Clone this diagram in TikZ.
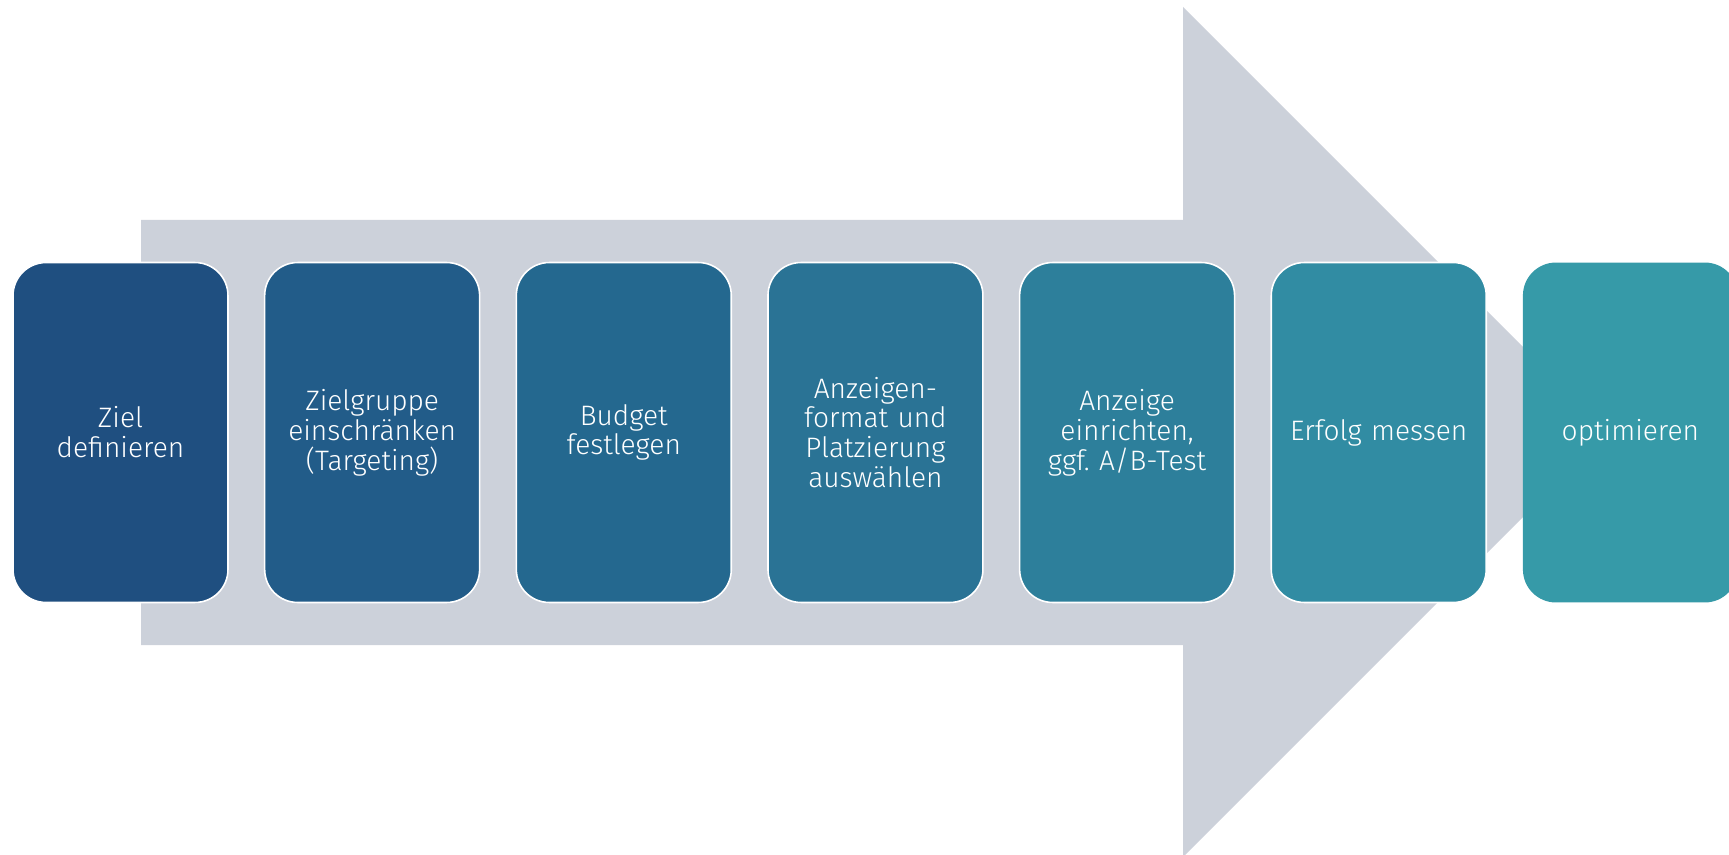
\documentclass[tikz,border=0pt]{standalone}
\usepackage{fontspec}
\setmainfont{Fira Sans}[UprightFont=* Light]
\usepackage{xcolor}
\usepackage{tikz}
\usetikzlibrary{positioning}
\definecolor{arrowgray}{HTML}{CCD1DA}
\definecolor{stepA}{HTML}{1F4F80}
\definecolor{stepB}{HTML}{225C89}
\definecolor{stepC}{HTML}{24688F}
\definecolor{stepD}{HTML}{2A7395}
\definecolor{stepE}{HTML}{2D7F9B}
\definecolor{stepF}{HTML}{318CA3}
\definecolor{stepG}{HTML}{369AA8}
\frenchspacing

\begin{document}
\begin{tikzpicture}[x=0.02cm, y=-0.02cm,
		stepbox/.style={rectangle, rounded corners=0.66cm, draw=white, line width=0.9pt,
			minimum width=4.3cm, minimum height=6.8cm, inner sep=0pt, outer sep=0pt,
			text width=4.1cm, align=center, text=white,
			font=\fontsize{16}{17}\selectfont}]
		\useasboundingbox (0,0) rectangle (1729,855);
		\clip (0,0) rectangle (1729,855);

		% big arrow behind the steps
		\fill[arrowgray] (141,220) -- (1183,220) -- (1183,7) -- (1608,432)
			-- (1183,857) -- (1183,645) -- (141,645) -- cycle;

		\node[stepbox, fill=stepA] (ziel) at (120.5,432.5) {Ziel\\definieren};
		\node[stepbox, fill=stepB, right=0.734cm of ziel] (zielgruppe) {Zielgruppe\\einschränken\\(Targeting)};
		\node[stepbox, fill=stepC, right=0.734cm of zielgruppe] (budget) {Budget\\festlegen};
		\node[stepbox, fill=stepD, right=0.734cm of budget] (format) {Anzeigen-\\format und\\Platzierung\\auswählen};
		\node[stepbox, fill=stepE, right=0.734cm of format] (anzeige) {Anzeige\\einrichten,\\ggf. A/B-Test};
		\node[stepbox, fill=stepF, right=0.734cm of anzeige] (erfolg) {Erfolg messen};
		\node[stepbox, fill=stepG, draw=none, right=0.734cm of erfolg] (optimieren) {optimieren};
	\end{tikzpicture}
\end{document}
